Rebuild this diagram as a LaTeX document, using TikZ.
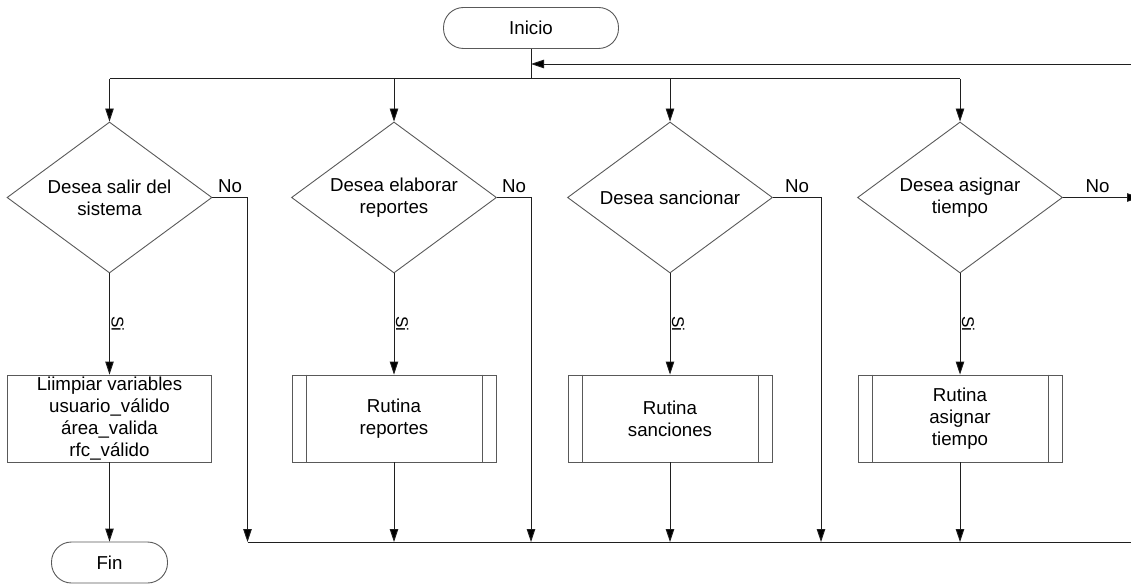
\documentclass[tikz,border=0pt]{standalone}
\usepackage{fontspec}
\setmainfont{Liberation Sans}
\usetikzlibrary{shapes.geometric,arrows.meta}
\definecolor{shp}{gray}{0.35}
\definecolor{ln}{gray}{0.12}
\begin{document}
\begin{tikzpicture}[x=1pt,y=-1pt,
  every node/.style={font=\fontsize{18.7}{22}\selectfont, text=black},
  term/.style={draw=shp, line width=0.9pt, rounded corners=20pt, minimum width=#1,
    minimum height=41pt, inner sep=0pt},
  decision/.style={draw=shp, line width=0.9pt, diamond, aspect=1.36, minimum width=205pt,
    minimum height=151pt, inner sep=0pt, align=center},
  proc/.style={draw=shp, line width=0.9pt, rectangle, minimum width=204pt,
    minimum height=87pt, inner sep=0pt, align=center},
  flow/.style={draw=ln, line width=0.9pt},
  arr/.style={flow, -{Triangle[length=13pt,width=8.5pt,fill=black]}},
  no/.style={anchor=base, yshift=5pt, inner sep=0pt},
  si/.style={rotate=-90, anchor=south, inner sep=1.5pt, font=\fontsize{17}{20}\selectfont}
]
\useasboundingbox (0,0) rectangle (1131,585);

% start and end terminals
\node[term=175pt] (ini) at (531,28) {Inicio};
\node[term=116pt] (fin) at (109.5,562.5) {Fin};

% decisions
\node[decision] (d1) at (109.5,197.5) {Desea salir del\\sistema};
\node[decision] (d2) at (394,197.5) {Desea elaborar\\reportes};
\node[decision] (d3) at (670,197.5) {Desea sancionar};
\node[decision] (d4) at (960,197.5) {Desea asignar\\tiempo};

% actions
\node[proc, font=\fontsize{18.7}{21.8}\selectfont] (b1) at (109.5,418.5)
  {Liimpiar variables\\usuario\_válido\\área\_valida\\rfc\_válido};
\node[proc] (b2) at (394,418.5) {Rutina\\reportes};
\node[proc] (b3) at (670,418.5) {Rutina\\sanciones};
\node[proc] (b4) at (960,418.5) {Rutina\\asignar\\tiempo};

% side bars of the predefined processes
\foreach \b in {b2,b3,b4} {
  \draw[shp, line width=0.9pt] ([xshift=14.5pt]\b.north west) -- ([xshift=14.5pt]\b.south west);
  \draw[shp, line width=0.9pt] ([xshift=-14.5pt]\b.north east) -- ([xshift=-14.5pt]\b.south east);
}

% junction points
\path (ini.south) ++(0,30) coordinate (split);
\coordinate (back) at (1131,64);
\coordinate (n1) at (247.5,542);
\coordinate (n2) at (531,542);
\coordinate (n3) at (821,542);
\coordinate (n4) at (1140,197.5);
\coordinate (busend) at (1131,542);

% top distribution
\draw[flow] (ini.south) -- (split);
\draw[arr] (back) -- (back -| ini.south);
\draw[flow] (d1.north |- split) -- (d4.north |- split);
\foreach \d in {d1,d2,d3,d4}
  \draw[arr] (\d.north |- split) -- (\d.north);

% yes branches
\draw[arr] (d1.south) -- node[si] {Si} (b1.north);
\draw[arr] (d2.south) -- node[si] {Si} (b2.north);
\draw[arr] (d3.south) -- node[si] {Si} (b3.north);
\draw[arr] (d4.south) -- node[si] {Si} (b4.north);

% no branches
\draw[arr] (d1.east) -| node[no, pos=0.25] {No} (n1);
\draw[arr] (d2.east) -| node[no, pos=0.25] {No} (n2);
\draw[arr] (d3.east) -| node[no, pos=0.25] {No} (n3);
\draw[arr] (d4.east) -- node[no, pos=0.45] {No} (n4);

% return bus
\draw[flow] (n1) -- (busend);
\draw[arr] (b1.south) -- (fin.north);
\draw[arr] (b2.south) -- (b2.south |- n1);
\draw[arr] (b3.south) -- (b3.south |- n1);
\draw[arr] (b4.south) -- (b4.south |- n1);
\end{tikzpicture}
\end{document}
